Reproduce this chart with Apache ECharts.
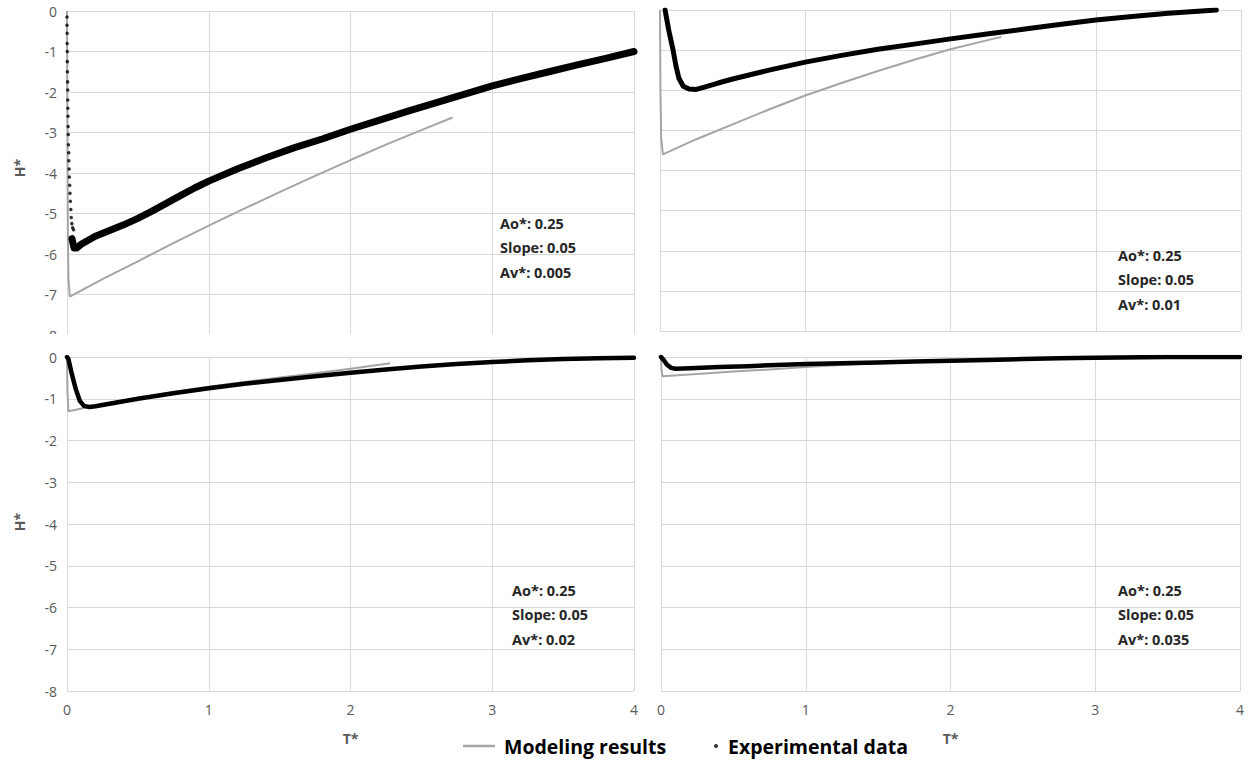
<!DOCTYPE html>
<html><head><meta charset="utf-8">
<script src="https://cdn.jsdelivr.net/npm/echarts@6/dist/echarts.min.js"></script>
<style>html,body{margin:0;padding:0;background:#fff}#c{width:1254px;height:765px}</style>
</head><body><div id="c"></div>
<script>
// ---- data (T*, H*) ----
const xTickMin = 0, xTickMax = 4, xTickStep = 1;
const yTickMin = -8, yTickMax = 0, yTickStep = 1;
const seriesNames = ['Modeling results', 'Experimental data'];
const axisTitles = ['T*', 'H*'];
const annotations = [
  'Ao*: 0.25\nSlope: 0.05\nAv*: 0.005',
  'Ao*: 0.25\nSlope: 0.05\nAv*: 0.01',
  'Ao*: 0.25\nSlope: 0.05\nAv*: 0.02',
  'Ao*: 0.25\nSlope: 0.05\nAv*: 0.035'
];

// Panel 1: Av* = 0.005
const model1 = [[0,0],[0.003,-3.0],[0.006,-5.5],[0.01,-6.6],[0.02,-7.05],[0.25,-6.62],[0.5,-6.18],[0.75,-5.73],[1.0,-5.3],[1.25,-4.88],[1.5,-4.47],[1.75,-4.07],[2.0,-3.68],[2.25,-3.3],[2.5,-2.94],[2.72,-2.63]];
const expDrop1 = [[0.000,-0.15],[0.000,-0.35],[0.001,-0.55],[0.001,-0.8],[0.002,-1.0],[0.002,-1.25],[0.003,-1.5],[0.004,-1.75],[0.005,-1.95],[0.005,-2.2],[0.006,-2.4],[0.007,-2.6],[0.008,-2.85],[0.009,-3.05],[0.010,-3.3],[0.012,-3.5],[0.013,-3.7],[0.015,-3.9],[0.017,-4.1],[0.019,-4.3],[0.021,-4.5],[0.024,-4.7],[0.027,-4.9],[0.030,-5.1],[0.034,-5.25],[0.040,-5.35],[0.046,-5.4]];
const exp1 = [[0.035,-5.62],[0.05,-5.85],[0.07,-5.85],[0.1,-5.76],[0.2,-5.56],[0.3,-5.42],[0.4,-5.28],[0.5,-5.12],[0.6,-4.94],[0.7,-4.75],[0.8,-4.56],[0.9,-4.37],[1.0,-4.2],[1.2,-3.9],[1.4,-3.63],[1.6,-3.38],[1.8,-3.16],[2.0,-2.92],[2.2,-2.7],[2.4,-2.48],[2.6,-2.27],[2.8,-2.06],[3.0,-1.85],[3.2,-1.67],[3.4,-1.5],[3.6,-1.33],[3.8,-1.17],[4.0,-1.0]];

// Panel 2: Av* = 0.01
const model2 = [[0,0],[0.003,-2.0],[0.008,-3.2],[0.02,-3.6],[0.25,-3.22],[0.5,-2.85],[0.75,-2.48],[1.0,-2.13],[1.25,-1.82],[1.5,-1.52],[1.75,-1.24],[2.0,-0.98],[2.2,-0.8],[2.35,-0.67]];
const exp2 = [[0.035,0.0],[0.06,-0.5],[0.09,-1.0],[0.11,-1.4],[0.13,-1.7],[0.16,-1.9],[0.2,-1.97],[0.25,-1.98],[0.3,-1.93],[0.4,-1.82],[0.5,-1.72],[0.75,-1.5],[1.0,-1.3],[1.25,-1.13],[1.5,-0.98],[1.75,-0.85],[2.0,-0.72],[2.25,-0.6],[2.5,-0.48],[2.75,-0.36],[3.0,-0.25],[3.25,-0.16],[3.5,-0.08],[3.83,0.0]];

// Panel 3: Av* = 0.02
const model3 = [[0,0],[0.003,-0.8],[0.01,-1.3],[0.25,-1.13],[0.5,-0.98],[0.75,-0.84],[1.0,-0.71],[1.25,-0.6],[1.5,-0.49],[1.75,-0.39],[2.0,-0.28],[2.28,-0.15]];
const exp3 = [[0,0],[0.01,-0.05],[0.03,-0.35],[0.06,-0.75],[0.09,-1.05],[0.12,-1.17],[0.16,-1.2],[0.2,-1.18],[0.3,-1.12],[0.5,-1.0],[0.75,-0.87],[1.0,-0.75],[1.25,-0.64],[1.5,-0.55],[1.75,-0.46],[2.0,-0.38],[2.25,-0.3],[2.5,-0.23],[2.75,-0.17],[3.0,-0.12],[3.25,-0.08],[3.5,-0.05],[3.75,-0.03],[4.0,-0.02]];

// Panel 4: Av* = 0.035
const model4 = [[0,0],[0.003,-0.3],[0.01,-0.46],[0.25,-0.41],[0.5,-0.35],[0.75,-0.3],[1.0,-0.24],[1.25,-0.19],[1.5,-0.15],[1.75,-0.12],[2.0,-0.09],[2.3,-0.06]];
const exp4 = [[0,0],[0.02,-0.08],[0.04,-0.18],[0.07,-0.26],[0.1,-0.28],[0.2,-0.27],[0.4,-0.24],[0.6,-0.22],[0.8,-0.19],[1.0,-0.17],[1.25,-0.15],[1.5,-0.13],[1.75,-0.11],[2.0,-0.09],[2.25,-0.07],[2.5,-0.05],[2.75,-0.03],[3.0,-0.02],[3.5,0.0],[4.0,0.0]];

// ---- chart ----
const GRID = '#D9D9D9', LBL = '#595959', MODEL = '#A5A5A5', FONT = '"Open Sans", sans-serif';
const grids = [
  {left:67, top:11, width:567, height:324},
  {left:660, top:10, width:581, height:321},
  {left:67, top:357, width:567, height:334},
  {left:661, top:357, width:579, height:334}
];
const showX = [false,false,true,true];
const showY = [true,false,true,false];
const xAxes = grids.map((g,i)=>({
  gridIndex:i, type:'value', min:xTickMin, max:xTickMax, interval:xTickStep,
  axisLine:{show:false}, axisTick:{show:false},
  splitLine:{show:true, lineStyle:{color:GRID, width:1}},
  axisLabel:{show:showX[i], color:LBL, fontSize:14, fontFamily:FONT, margin:11},
  name: showX[i] ? axisTitles[0] : '', nameLocation:'middle', nameGap:40,
  nameTextStyle:{color:LBL, fontSize:14, fontWeight:'bold', fontFamily:FONT}
}));
const yAxes = grids.map((g,i)=>({
  gridIndex:i, type:'value', min:yTickMin, max:yTickMax, interval:yTickStep,
  axisLine:{show:false}, axisTick:{show:false},
  splitLine:{show:true, lineStyle:{color:GRID, width:1}},
  axisLabel:{show:showY[i], color:LBL, fontSize:14, fontFamily:FONT, margin:10}
}));
const models = [model1, model2, model3, model4];
const exps = [exp1, exp2, exp3, exp4];
const expWidths = [7, 5, 4.5, 4.5];
const series = [];
models.forEach((d,i)=>series.push({
  name:seriesNames[0], type:'line', xAxisIndex:i, yAxisIndex:i, data:d,
  showSymbol:false, symbol:'none', lineStyle:{color:MODEL, width:2}, itemStyle:{color:MODEL},
  animation:false, z:2
}));
series.push({
  name:seriesNames[1], type:'scatter', xAxisIndex:0, yAxisIndex:0, data:expDrop1,
  symbolSize:3.5, itemStyle:{color:'#000'}, animation:false, z:3
});
exps.forEach((d,i)=>series.push({
  name:seriesNames[1], type:'line', xAxisIndex:i, yAxisIndex:i, data:d,
  showSymbol:false, symbol:'none', lineStyle:{color:'#000', width:expWidths[i], cap:'round', join:'round'},
  itemStyle:{color:'#000'}, animation:false, z:3
}));

const annPos = [[500,211],[1118,243],[512,578],[1118,578]];
const graphics = annotations.map((t,i)=>({
  type:'text', left:annPos[i][0], top:annPos[i][1], z:50,
  style:{text:t, fill:'#262626', fontSize:14.5, fontWeight:'bold', fontFamily:FONT, lineHeight:24.5}
}));
// crop of top-left panel bottom edge
graphics.push({type:'rect', left:0, top:334, z:40, shape:{width:655, height:14}, style:{fill:'#fff'}});
[[19,168],[19,522]].forEach(p=>graphics.push({type:'text', x:p[0], y:p[1], rotation:Math.PI/2, z:50,
  style:{text:axisTitles[1], fill:LBL, fontSize:14, fontWeight:'bold', fontFamily:FONT, align:'center', verticalAlign:'middle'}}));

const legendText = {color:'#000', fontSize:19.5, fontWeight:'bold', fontFamily:FONT};
const option = {
  backgroundColor:'#fff',
  animation:false,
  grid:grids,
  xAxis:xAxes,
  yAxis:yAxes,
  series:series,
  legend:[
    {data:[{name:seriesNames[0], icon:'rect'}], left:463, top:736, itemWidth:32, itemHeight:2.5, padding:0, textStyle:Object.assign({padding:[0,0,0,4]}, legendText), selectedMode:false},
    {data:[{name:seriesNames[1], icon:'circle'}], left:714, top:736, itemWidth:14, itemHeight:4, padding:0, textStyle:legendText, selectedMode:false}
  ],
  graphic:graphics
};
const chart = echarts.init(document.getElementById('c'), null, {renderer:'svg'});
chart.setOption(option);
</script>
</body></html>
